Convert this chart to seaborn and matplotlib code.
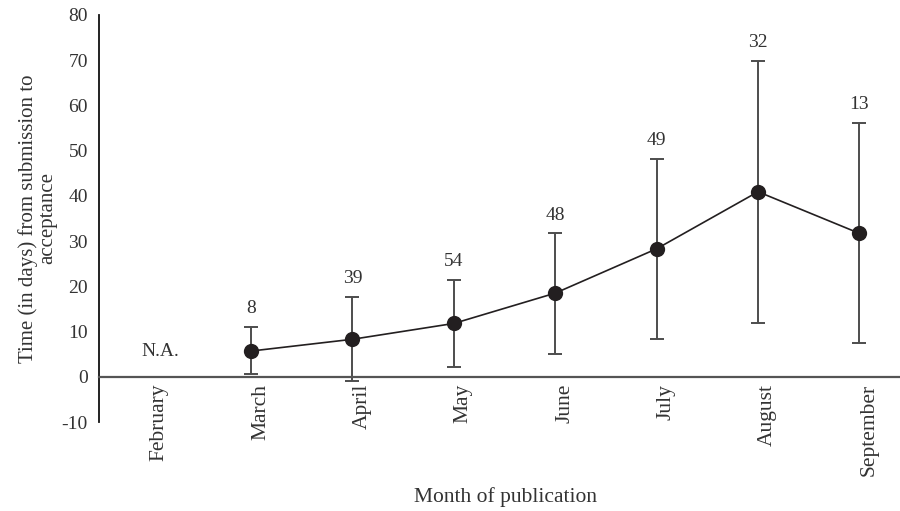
import matplotlib
matplotlib.use("Agg")
import matplotlib.pyplot as plt
import numpy as np
import pandas as pd
import seaborn as sns

months = ["February", "March", "April", "May", "June", "July", "August", "September"]
mean_days = [np.nan, 5.7, 8.3, 11.8, 18.5, 28.3, 40.9, 31.7]
lower_days = [np.nan, 0.6, -0.9, 2.2, 5.0, 8.3, 11.9, 7.4]
upper_days = [np.nan, 11.1, 17.7, 21.4, 31.7, 48.2, 69.9, 56.1]
counts = [None, 8, 39, 54, 48, 49, 32, 13]

sns.set_theme(style="white")
plt.rcParams["font.family"] = ["Liberation Serif", "DejaVu Serif"]

df = pd.DataFrame({
    "pos": np.arange(len(months)),
    "month": months,
    "mean": mean_days,
    "lower": lower_days,
    "upper": upper_days,
})
valid = df.dropna()

fig = plt.figure(figsize=(9, 5.11), dpi=100)
ax = fig.add_axes([0.11, 0.174, 0.89, 0.797])

ink = "#231f20"
bar_col = "#4d4d4d"
text_col = "#333333"

# x axis drawn through zero (set before ticks, since moving a spine resets them)
ax.spines["bottom"].set_position(("data", 0))
ax.spines["bottom"].set_color("#555555")
ax.spines["bottom"].set_linewidth(1.6)
for side in ["top", "right"]:
    ax.spines[side].set_visible(False)
ax.spines["left"].set_color("#111111")
ax.spines["left"].set_linewidth(1.3)

# error bars spanning the reported range
ax.errorbar(valid["pos"], valid["mean"],
            yerr=[valid["mean"] - valid["lower"], valid["upper"] - valid["mean"]],
            fmt="none", ecolor=bar_col, elinewidth=1.4, capsize=5, capthick=1.4, zorder=2)

sns.lineplot(data=valid, x="pos", y="mean", ax=ax, color=ink, linewidth=1.2,
             marker="o", markersize=11, markeredgewidth=0, markerfacecolor=ink,
             zorder=3, legend=False)

# sample counts above each bar
for p, up, n in zip(df["pos"], df["upper"], counts):
    if n is not None:
        ax.annotate(str(n), (p, up), xytext=(0, 7), textcoords="offset points",
                    ha="center", va="bottom", fontsize=14, color=text_col)
ax.text(0.1, 5.5, "N.A.", ha="center", va="center", fontsize=14, color=text_col)

ax.set_xlim(-0.5, 7.4)
ax.set_ylim(-10, 80)
ax.set_yticks(np.arange(-10, 81, 10))
ax.set_yticklabels([str(v) for v in range(-10, 81, 10)], fontsize=14, color=text_col)
ax.set_xticks(df["pos"])
ax.set_xticklabels(months, rotation=90, fontsize=15.5, color=text_col, ha="left")
ax.tick_params(axis="x", pad=5, length=0)
ax.tick_params(axis="y", length=0, pad=8)

ax.set_xlabel("")
ax.set_ylabel("Time (in days) from submission to\nacceptance", fontsize=15,
              color=text_col, labelpad=3, linespacing=1.05)
fig.text(0.562, 0.027, "Month of publication", ha="center", va="center",
         fontsize=15.5, color=text_col)

fig.savefig("out.png", dpi=100)
